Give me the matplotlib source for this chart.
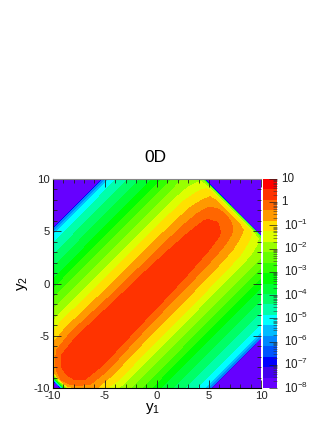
import numpy as np
import matplotlib
matplotlib.use('Agg')
import matplotlib.pyplot as plt
from matplotlib.colors import ListedColormap
from matplotlib.ticker import FixedLocator, NullFormatter

plt.rcParams['font.family'] = ['Liberation Sans', 'DejaVu Sans']
plt.rcParams['mathtext.fontset'] = 'custom'
plt.rcParams['mathtext.rm'] = 'Liberation Sans'
plt.rcParams['mathtext.it'] = 'Liberation Sans'
plt.rcParams['mathtext.default'] = 'regular'
plt.rcParams['axes.unicode_minus'] = False

# log10 of the density.
# Stored along the diagonal: u = y1 + y2 (columns), v = |y2 - y1| (rows)
u_nodes = [-20, -19.3, -18.9, -18.4, -17.4, -16, -13, -9, -5, 0, 4, 8, 10.5, 11.7, 12.5, 13.4, 14, 14.4, 14.6, 20]
v_nodes = [0, 1.2, 2.25, 3.2, 4.33, 5.45, 6.4, 7.5, 8.5, 9.45, 10.4, 11.55, 12.7, 13.84, 14.6, 15.15, 15.3, 20]

row_a = [-9, -7.6, -3, -0.35, 0.1, 0.3, 0.45, 0.45, 0.45, 0.45, 0.45, 0.45, 0.3, 0.1, -0.08, -0.42, -1.25, -2.2, -9, -9]
row_b = [-9, -7.8, -3.5, -0.6, 0.05, 0.3, 0.4, 0.38, 0.36, 0.33, 0.31, 0.27, 0.18, 0, -0.15, -0.5, -1.2, -2.2, -9, -9]
row_c = [-9, -8, -6, -2, -0.4, 0.12, 0.27, 0.22, 0.16, 0.1, 0.06, -0.02, -0.12, -0.25, -0.38, -0.62, -1.1, -2.2, -9, -9]
row_d = [-9, -9, -8, -6, -1.2, -0.32, -0.15, -0.25, -0.32, -0.35, -0.37, -0.42, -0.5, -0.6, -0.68, -0.8, -1.15, -2.2, -9, -9]
row_e = [-9, -9, -9, -8, -5, -0.85, -0.72, -0.77, -0.8, -0.8, -0.82, -0.85, -0.9, -0.98, -1.05, -1.15, -1.3, -2.3, -9, -9]
row_f = [-9, -9, -9, -9, -6, -1.5, -1.2, -1.22, -1.25, -1.25, -1.25, -1.27, -1.3, -1.38, -1.45, -1.55, -1.7, -2.4, -9, -9]
row_g = [-3, -3, -3, -3, -3, -2, -1.7, -1.7, -1.7, -1.7, -1.7, -1.7, -1.72, -1.75, -1.8, -1.9, -2, -2.5, -9, -9]
row_h = [-2.15] * 20
row_i = [-2.6] * 20
row_j = [-3.05] * 20
row_k = [-3.5] * 20
row_l = [-3.95] * 20
row_m = [-4.4] * 20
row_n = [-4.85] * 20
row_o = [-5.3] * 20
row_p = [-6.2] * 20
row_q = [-9] * 20
row_r = [-9] * 20

band_colors = ['#6600ff', '#4400ee', '#0000ff', '#0055ff', '#0088ff', '#00bbff', '#00ffff', '#00ffaa', '#00ff66',
               '#00ff33', '#00ff00', '#33ff00', '#66ff00', '#99ff00', '#ddff00', '#ffe000', '#ff9900', '#ff6600',
               '#ff3300', '#ff0000']
cbar_exponents = [-8, -7, -6, -5, -4, -3, -2, -1, 0, 1]
cbar_labels = ['$10^{-8}$', '$10^{-7}$', '$10^{-6}$', '$10^{-5}$', '$10^{-4}$', '$10^{-3}$', '$10^{-2}$', '$10^{-1}$', '1', '10']
axis_ticks = [-10, -5, 0, 5, 10]

half = np.array([row_a, row_b, row_c, row_d, row_e, row_f, row_g, row_h, row_i,
                 row_j, row_k, row_l, row_m, row_n, row_o, row_p, row_q, row_r])
# the picture is symmetric under y1 <-> y2
v_all = np.concatenate([-np.array(v_nodes[:0:-1]), v_nodes])
z = np.vstack([half[:0:-1], half])
uu, vv = np.meshgrid(u_nodes, v_all)
y1 = (uu - vv) / 2
y2 = (uu + vv) / 2

levels = np.linspace(-8, 1, 21)
fill_levels = levels.copy()
fill_levels[0] = -10

W, H = 332, 430
fig = plt.figure(figsize=(W / 100, H / 100), dpi=100)
ax = fig.add_axes([52.7 / W, 1 - 388 / H, 208.3 / W, 209 / H])
ax.contourf(y1, y2, z, levels=fill_levels, colors=band_colors, antialiased=False)
ax.set_xlim(-10, 10)
ax.set_ylim(-10, 10)
ax.set_xticks(axis_ticks)
ax.set_yticks(axis_ticks)
ax.set_xticks(np.arange(-10, 11), minor=True)
ax.set_yticks(np.arange(-10, 11), minor=True)
ax.tick_params(which='major', direction='in', length=6, width=0.6, top=True, right=True, labelsize=8.2, pad=2, colors='#222222')
ax.tick_params(which='minor', direction='in', length=3, width=0.6, top=True, right=True, colors='#222222')
ax.spines['top'].set_color('#888888')
ax.spines['right'].set_visible(False)
for s in ['left', 'bottom']:
    ax.spines[s].set_linewidth(0.8)
fig.text(153 / W, 1 - 409 / H, '$y_{1}$', ha='center', va='center', fontsize=11)
fig.text(22 / W, 1 - 283 / H, '$y_{2}$', ha='center', va='center', fontsize=11, rotation=90)
fig.text(155 / W, 1 - 157 / H, '0D', ha='center', va='center', fontsize=12.5)

# colour scale
cax = fig.add_axes([263 / W, 1 - 388 / H, 13.7 / W, 209 / H])
cax.pcolormesh([0, 1], 10.0 ** levels, np.arange(20).reshape(-1, 1),
               cmap=ListedColormap(band_colors), antialiased=False)
cax.set_yscale('log')
cax.set_xlim(0, 1)
cax.set_ylim(1e-8, 10)
cax.set_xticks([])
for s in cax.spines.values():
    s.set_visible(False)
cax.yaxis.tick_right()
cax.yaxis.set_major_locator(FixedLocator(10.0 ** np.array(cbar_exponents, dtype=float)))
cax.yaxis.set_minor_locator(FixedLocator([m * 10.0 ** e for e in range(-8, 1) for m in range(2, 10)]))
cax.yaxis.set_minor_formatter(NullFormatter())
cax.set_yticklabels([])
cax.tick_params(which='major', axis='y', direction='in', length=5.5, width=0.5, colors='#222222')
cax.tick_params(which='minor', axis='y', direction='in', length=3, width=0.4, colors='#333333')
for e, lab in zip(cbar_exponents, cbar_labels):
    # plain labels start a little further left than the powers
    x_pos = (284 - 263) / 13.7 if e < 0 else (281.5 - 263) / 13.7
    cax.text(x_pos, 10.0 ** e, lab, ha='left', va='center', fontsize=8.4, color='#222222',
             transform=cax.get_yaxis_transform())

plt.savefig('out.png', dpi=100)
